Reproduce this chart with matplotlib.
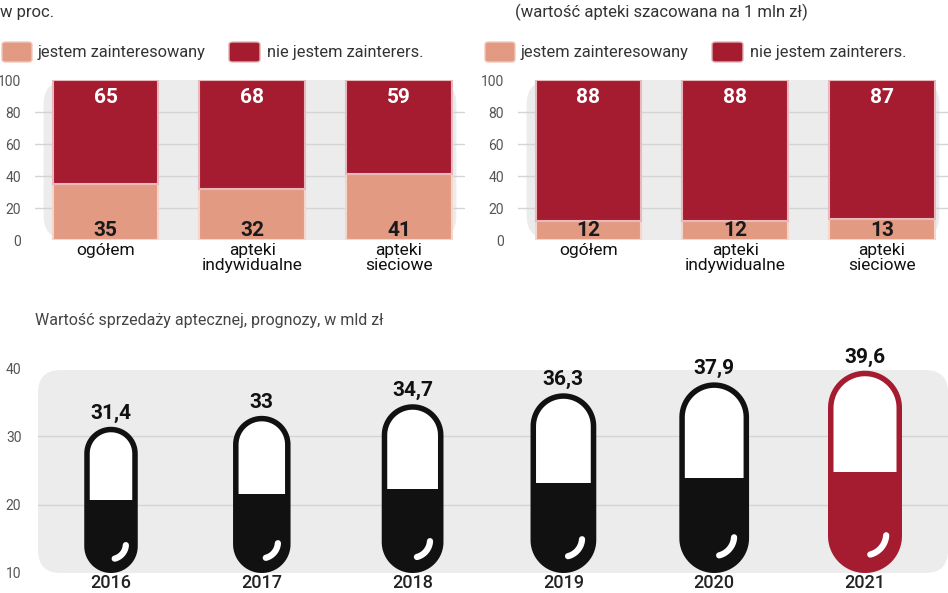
import matplotlib
matplotlib.use("Agg")
import matplotlib.pyplot as plt
import numpy as np
from matplotlib.patches import FancyBboxPatch, Polygon

plt.rcParams['font.family'] = ['Roboto', 'DejaVu Sans']

cats = ["ogółem", "apteki\nindywidualne", "apteki\nsieciowe"]
left_yes = [35, 32, 41]
left_no = [65, 68, 59]
right_yes = [12, 12, 13]
right_no = [88, 88, 87]
years = ["2016", "2017", "2018", "2019", "2020", "2021"]
sales = [31.4, 33, 34.7, 36.3, 37.9, 39.6]
sales_lbl = ["31,4", "33", "34,7", "36,3", "37,9", "39,6"]

W, H = 948, 593
fig = plt.figure(figsize=(W/100, H/100), dpi=100)
C_YES = "#e39a82"
C_NO = "#a51c30"
BG = "#ececec"

def ax_px(l, t, r, b):
    return fig.add_axes([l/W, 1-b/H, (r-l)/W, (b-t)/H])

def top_chart(l, r, yes, no):
    ax = ax_px(l, 80, r, 240)
    x = np.arange(len(cats))
    ax.set_xlim(-0.48, 2.45)
    ax.set_ylim(0, 100)
    ax.add_patch(FancyBboxPatch((0.02, 0.0), 0.96, 1.0, boxstyle="round,pad=0,rounding_size=0.06",
                                transform=ax.transAxes, fc=BG, ec="none", zorder=0, mutation_aspect=2.5))
    for yv in [20, 40, 60, 80]:
        ax.axhline(yv, color="#d4d4d4", lw=1, zorder=0.5)
    ax.bar(x, yes, 0.72, color=C_YES, edgecolor="#f6d6cc", lw=1.5, zorder=2)
    ax.bar(x, no, 0.72, bottom=yes, color=C_NO, edgecolor="#e8b8bd", lw=1.5, zorder=2)
    for xi, a, b in zip(x, yes, no):
        ax.text(xi, 6, str(a), ha="center", va="center", fontsize=15, fontweight="bold", color="#1a1a1a", zorder=3)
        ax.text(xi, 89, str(b), ha="center", va="center", fontsize=15, fontweight="bold", color="white", zorder=3)
    ax.set_yticks([0, 20, 40, 60, 80, 100])
    ax.set_xticks(x)
    ax.set_xticklabels(cats, fontsize=12.5, linespacing=1.0)
    ax.tick_params(length=0, pad=2)
    ax.tick_params(axis="y", labelsize=10, colors="#555555", pad=10)
    ax.tick_params(axis="x", colors="#111111")
    for s in ax.spines.values():
        s.set_visible(False)
    y = 52
    fig.patches.append(FancyBboxPatch(((l-33)/W, 1-(y+10)/H), 30/W, 20/H, boxstyle="round,pad=0,rounding_size=0.004",
                                      transform=fig.transFigure, fc=C_YES, ec="#f0c8bb", lw=1))
    fig.text((l+3)/W, 1-y/H, "jestem zainteresowany", fontsize=11.8, color="#333", va="center")
    fig.patches.append(FancyBboxPatch(((l+194)/W, 1-(y+10)/H), 31/W, 20/H, boxstyle="round,pad=0,rounding_size=0.004",
                                      transform=fig.transFigure, fc=C_NO, ec="#e0b0b5", lw=1))
    fig.text((l+232)/W, 1-y/H, "nie jestem zainterers.", fontsize=11.8, color="#333", va="center")
    return ax

top_chart(35, 465, left_yes, left_no)
top_chart(518, 948, right_yes, right_no)
fig.text(0/W, 1-12/H, "w proc.", fontsize=12, color="#333", va="center")
fig.text(515/W, 1-12/H, "(wartość apteki szacowana na 1 mln zł)", fontsize=12, color="#333", va="center")
fig.text(35/W, 1-320/H, "Wartość sprzedaży aptecznej, prognozy, w mld zł", fontsize=11.5, color="#444", va="center")

L, T, R, B = 38, 368, 948, 573
ax = ax_px(L, T, R, B)
unit = 150.8
ax.set_xlim(-73/unit, (R-L-73)/unit)
ax.set_ylim(10, 40)
ppy = (B-T)/30.0
ax.add_patch(FancyBboxPatch((0.0, 0.0), 1.0, 0.99, boxstyle="round,pad=0,rounding_size=0.025",
                            transform=ax.transAxes, fc=BG, ec="none", zorder=0, mutation_aspect=4.4))
for yv in [20, 30]:
    ax.axhline(yv, color="#d4d4d4", lw=1, zorder=0.5)

def capsule_path(xc, y0, y1, w_px):
    rx = (w_px/2)/unit
    ry = (w_px/2)/ppy
    t = np.linspace(0, np.pi, 40)
    top = np.column_stack([xc + rx*np.cos(t), y1 - ry + ry*np.sin(t)])
    t2 = np.linspace(np.pi, 2*np.pi, 40)
    bot = np.column_stack([xc + rx*np.cos(t2), y0 + ry + ry*np.sin(t2)])
    return np.vstack([top, bot]), rx, ry

lw_px = 5.5
for i, (v, lab) in enumerate(zip(sales, sales_lbl)):
    col = C_NO if i == len(sales)-1 else "#111111"
    w_px = 2.5*(v-10) - lw_px
    half = (lw_px/2)/ppy
    pts, rx, ry = capsule_path(i, 10 + half, v - half, w_px)
    ax.add_patch(Polygon(pts, closed=True, fc="white", ec="none", zorder=2))
    mid = 10 + (v-10)/2
    clip = Polygon(pts, closed=True, fc="none", ec="none", transform=ax.transData)
    ax.add_patch(clip)
    r = ax.add_patch(Polygon([[i-rx*1.1, 9], [i+rx*1.1, 9], [i+rx*1.1, mid], [i-rx*1.1, mid]],
                             closed=True, fc=col, ec="none", zorder=3))
    r.set_clip_path(clip)
    ax.add_patch(Polygon(pts, closed=True, fc="none", ec=col, lw=lw_px*0.72, zorder=4, joinstyle="round"))
    t = np.linspace(-0.02*np.pi, -0.42*np.pi, 20)
    hr = 0.62
    ax.plot(i + hr*rx*np.cos(t), 10 + half + ry + hr*ry*np.sin(t) + 0.3, color="white", lw=4.5,
            solid_capstyle="round", zorder=5)
    ax.text(i, v + 0.6, lab, ha="center", va="bottom", fontsize=15, fontweight="bold", color="#111", zorder=6)

ax.set_yticks([10, 20, 30, 40])
ax.set_xticks(range(len(years)))
ax.set_xticklabels(years, fontsize=13, fontweight="medium", color="#222")
ax.tick_params(length=0, pad=1)
ax.tick_params(axis="y", labelsize=10, colors="#555555", pad=12)
for s in ax.spines.values():
    s.set_visible(False)

fig.savefig("out.png", dpi=100, facecolor="white")
